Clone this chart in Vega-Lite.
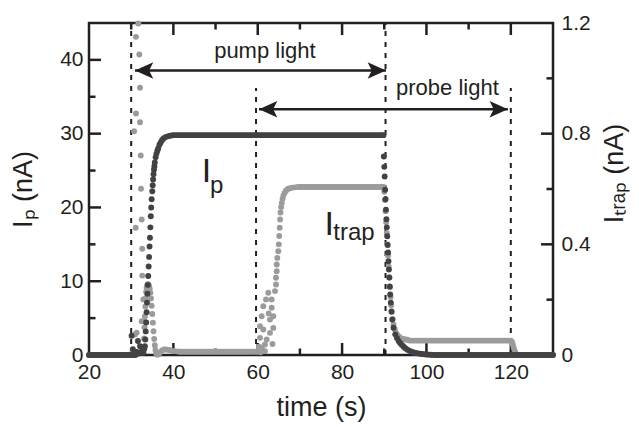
{
"$schema":"https://vega.github.io/schema/vega-lite/v6.json",
"width":464,"height":332,
"autosize":{"type":"none"},
"padding":{"left":89,"top":23,"right":86,"bottom":72},
"background":"white",
"config":{
 "view":{"stroke":"#231f20","strokeWidth":2.5},
 "axis":{"domain":false,"grid":false,"labelFont":"Liberation Sans","titleFont":"Liberation Sans","labelFontSize":21,"titleFontSize":27,"labelColor":"#231f20","titleColor":"#231f20","tickColor":"#231f20","tickWidth":2.5,"gridColor":"#231f20","gridWidth":2.5,"gridOpacity":1,"titleFontWeight":"normal","labelFlush":false,"labelOverlap":false},
 "text":{"font":"Liberation Sans","color":"#231f20"}
},
"datasets":{
 "dash":[{"t":30,"y1":0,"y2":45},{"t":59.6,"y1":0,"y2":36.2},{"t":90.3,"y1":0,"y2":45},{"t":120,"y1":0,"y2":36.2}],
 "arrows":[{"x1":30.9,"x2":90.4,"y":38.55},{"x1":60.3,"x2":119.3,"y":33.3}],
 "xmaj":[{"t":40},{"t":60},{"t":80},{"t":100},{"t":120}],
 "xmin":[{"t":30},{"t":50},{"t":70},{"t":90},{"t":110}],
 "ylmaj":[{"v":10},{"v":20},{"v":30},{"v":40}],
 "ylmin":[{"v":5},{"v":15},{"v":25},{"v":35}],
 "yrmaj":[{"v":0.4},{"v":0.8}],
 "yrmin":[{"v":0.2},{"v":0.6},{"v":1.0}],
 "notes":[{"t":61.7,"v":40.27,"text":"pump light"},{"t":104.96,"v":35.3,"text":"probe light"}],
 "bigI":[{"t":46.7,"v":23.45,"text":"I"},{"t":75.85,"v":16.26,"text":"I"}],
 "subs":[{"t":48.7,"v":21.96,"text":"p"},{"t":77.9,"v":15.59,"text":"trap"}],
 "ip":[
{"t":20,"v":0},{"t":20.5,"v":0},{"t":21,"v":0},{"t":21.5,"v":0},{"t":22,"v":0},{"t":22.5,"v":0},{"t":23,"v":0},{"t":23.5,"v":0},{"t":24,"v":0},{"t":24.5,"v":0},{"t":25,"v":0},{"t":25.5,"v":0},{"t":26,"v":0},{"t":26.5,"v":0},{"t":27,"v":0},{"t":27.5,"v":0},{"t":28,"v":0},{"t":28.5,"v":0},{"t":29,"v":0},{"t":29.5,"v":0},
{"t":30,"v":0},{"t":30.1,"v":2.6},{"t":30.4,"v":0.8},{"t":30.5,"v":0},{"t":30.8,"v":0.3},{"t":31,"v":0},{"t":31.3,"v":0.4},{"t":31.6,"v":1.9},{"t":31.8,"v":0.2},{"t":32.1,"v":1.2},{"t":32.3,"v":0.3},{"t":32.6,"v":0.6},{"t":32.9,"v":0.3},{"t":33.1,"v":0.8},
{"t":33.25,"v":1.2},{"t":33.35,"v":2.1},{"t":33.45,"v":3.2},{"t":33.55,"v":4.4},{"t":33.65,"v":5.8},{"t":33.75,"v":7.1},{"t":33.85,"v":8.3},{"t":33.95,"v":9.5},{"t":34.05,"v":10.7},{"t":34.15,"v":12.0},{"t":34.25,"v":13.3},{"t":34.35,"v":14.7},{"t":34.45,"v":15.9},{"t":34.55,"v":17.3},{"t":34.65,"v":18.8},{"t":34.75,"v":20.0},{"t":34.85,"v":21.1},{"t":35.0,"v":22.2},{"t":35.1,"v":23.0},{"t":35.2,"v":23.8},{"t":35.3,"v":24.5},{"t":35.4,"v":25.1},{"t":35.5,"v":25.6},{"t":35.6,"v":26.1},{"t":35.8,"v":26.8},{"t":36.0,"v":27.3},{"t":36.2,"v":27.7},{"t":36.4,"v":28.0},{"t":36.7,"v":28.5},{"t":37.0,"v":28.8},{"t":37.3,"v":29.1},{"t":37.6,"v":29.3},{"t":38.0,"v":29.5},{"t":38.5,"v":29.6},{"t":39.0,"v":29.7},{"t":39.5,"v":29.75},
{"t":40,"v":29.8},{"t":40.5,"v":29.8},{"t":41,"v":29.8},{"t":41.5,"v":29.8},{"t":42,"v":29.8},{"t":42.5,"v":29.8},{"t":43,"v":29.8},{"t":43.5,"v":29.8},{"t":44,"v":29.8},{"t":44.5,"v":29.8},{"t":45,"v":29.8},{"t":45.5,"v":29.8},{"t":46,"v":29.8},{"t":46.5,"v":29.8},{"t":47,"v":29.8},{"t":47.5,"v":29.8},{"t":48,"v":29.8},{"t":48.5,"v":29.8},{"t":49,"v":29.8},{"t":49.5,"v":29.8},
{"t":50,"v":29.8},{"t":50.5,"v":29.8},{"t":51,"v":29.8},{"t":51.5,"v":29.8},{"t":52,"v":29.8},{"t":52.5,"v":29.8},{"t":53,"v":29.8},{"t":53.5,"v":29.8},{"t":54,"v":29.8},{"t":54.5,"v":29.8},{"t":55,"v":29.8},{"t":55.5,"v":29.8},{"t":56,"v":29.8},{"t":56.5,"v":29.8},{"t":57,"v":29.8},{"t":57.5,"v":29.8},{"t":58,"v":29.8},{"t":58.5,"v":29.8},{"t":59,"v":29.8},{"t":59.5,"v":29.8},
{"t":60,"v":29.8},{"t":60.5,"v":29.8},{"t":61,"v":29.8},{"t":61.5,"v":29.8},{"t":62,"v":29.8},{"t":62.5,"v":29.8},{"t":63,"v":29.8},{"t":63.5,"v":29.8},{"t":64,"v":29.8},{"t":64.5,"v":29.8},{"t":65,"v":29.8},{"t":65.5,"v":29.8},{"t":66,"v":29.8},{"t":66.5,"v":29.8},{"t":67,"v":29.8},{"t":67.5,"v":29.8},{"t":68,"v":29.8},{"t":68.5,"v":29.8},{"t":69,"v":29.8},{"t":69.5,"v":29.8},
{"t":70,"v":29.8},{"t":70.5,"v":29.8},{"t":71,"v":29.8},{"t":71.5,"v":29.8},{"t":72,"v":29.8},{"t":72.5,"v":29.8},{"t":73,"v":29.8},{"t":73.5,"v":29.8},{"t":74,"v":29.8},{"t":74.5,"v":29.8},{"t":75,"v":29.8},{"t":75.5,"v":29.8},{"t":76,"v":29.8},{"t":76.5,"v":29.8},{"t":77,"v":29.8},{"t":77.5,"v":29.8},{"t":78,"v":29.8},{"t":78.5,"v":29.8},{"t":79,"v":29.8},{"t":79.5,"v":29.8},
{"t":80,"v":29.8},{"t":80.5,"v":29.8},{"t":81,"v":29.8},{"t":81.5,"v":29.8},{"t":82,"v":29.8},{"t":82.5,"v":29.8},{"t":83,"v":29.8},{"t":83.5,"v":29.8},{"t":84,"v":29.8},{"t":84.5,"v":29.8},{"t":85,"v":29.8},{"t":85.5,"v":29.8},{"t":86,"v":29.8},{"t":86.5,"v":29.8},{"t":87,"v":29.8},{"t":87.5,"v":29.8},{"t":88,"v":29.8},{"t":88.5,"v":29.8},{"t":89,"v":29.8},{"t":89.5,"v":29.8},{"t":89.8,"v":29.8},
{"t":89.9,"v":26.9},{"t":90.0,"v":25.5},{"t":90.1,"v":24.2},{"t":90.2,"v":22.4},{"t":90.3,"v":21.1},{"t":90.4,"v":19.7},{"t":90.5,"v":18.4},{"t":90.6,"v":17.3},{"t":90.7,"v":16.1},{"t":90.8,"v":14.9},{"t":90.9,"v":13.9},{"t":91.0,"v":12.7},{"t":91.1,"v":11.6},{"t":91.2,"v":10.5},{"t":91.3,"v":9.3},{"t":91.4,"v":8.2},{"t":91.55,"v":7.1},{"t":91.7,"v":5.9},{"t":91.9,"v":4.8},{"t":92.2,"v":3.7},{"t":92.6,"v":2.8},{"t":93.0,"v":2.3},{"t":93.4,"v":1.9},{"t":93.8,"v":1.6},{"t":94.2,"v":1.35},{"t":94.6,"v":1.12},{"t":95.0,"v":0.92},{"t":95.5,"v":0.72},{"t":96.0,"v":0.56},{"t":96.5,"v":0.44},{"t":97.0,"v":0.35},{"t":97.5,"v":0.28},{"t":98.0,"v":0.22},{"t":98.5,"v":0.17},{"t":99.0,"v":0.13},{"t":99.5,"v":0.1},{"t":100,"v":0.07},{"t":100.5,"v":0.05},{"t":101,"v":0.03},{"t":101.5,"v":0.015},
{"t":102,"v":0},{"t":102.5,"v":0},{"t":103,"v":0},{"t":103.5,"v":0},{"t":104,"v":0},{"t":104.5,"v":0},{"t":105,"v":0},{"t":105.5,"v":0},{"t":106,"v":0},{"t":106.5,"v":0},{"t":107,"v":0},{"t":107.5,"v":0},{"t":108,"v":0},{"t":108.5,"v":0},{"t":109,"v":0},{"t":109.5,"v":0},{"t":110,"v":0},{"t":110.5,"v":0},{"t":111,"v":0},{"t":111.5,"v":0},
{"t":112,"v":0},{"t":112.5,"v":0},{"t":113,"v":0},{"t":113.5,"v":0},{"t":114,"v":0},{"t":114.5,"v":0},{"t":115,"v":0},{"t":115.5,"v":0},{"t":116,"v":0},{"t":116.5,"v":0},{"t":117,"v":0},{"t":117.5,"v":0},{"t":118,"v":0},{"t":118.5,"v":0},{"t":119,"v":0},{"t":119.5,"v":0},{"t":120,"v":0},{"t":120.5,"v":0},{"t":121,"v":0},{"t":121.5,"v":0},
{"t":122,"v":0},{"t":122.5,"v":0},{"t":123,"v":0},{"t":123.5,"v":0},{"t":124,"v":0},{"t":124.5,"v":0},{"t":125,"v":0},{"t":125.5,"v":0},{"t":126,"v":0},{"t":126.5,"v":0},{"t":127,"v":0},{"t":127.5,"v":0},{"t":128,"v":0},{"t":128.5,"v":0},{"t":129,"v":0},{"t":129.5,"v":0},{"t":130,"v":0}
 ],
 "itrap":[
{"t":20,"v":0},{"t":21,"v":0},{"t":22,"v":0},{"t":23,"v":0},{"t":24,"v":0},{"t":25,"v":0},{"t":26,"v":0},{"t":27,"v":0},{"t":28,"v":0},{"t":29,"v":0},{"t":29.5,"v":0},{"t":30,"v":0},
{"t":30.3,"v":0.01},{"t":30.7,"v":0.809},{"t":30.9,"v":0.074},{"t":31.07,"v":0.46},{"t":31.14,"v":1.15},{"t":31.14,"v":0.873},{"t":31.3,"v":0.081},{"t":31.5,"v":0.01},{"t":31.69,"v":1.198},{"t":31.93,"v":1.086},{"t":32.09,"v":0.966},{"t":32.09,"v":0.841},{"t":32.26,"v":0.721},{"t":32.33,"v":0.601},{"t":32.49,"v":0.49},{"t":32.49,"v":0.122},{"t":32.5,"v":0.01},{"t":32.63,"v":0.384},{"t":32.63,"v":0.287},{"t":32.87,"v":0.201},{"t":33.11,"v":0.122},
{"t":32.95,"v":0.03},{"t":33.05,"v":0.06},{"t":33.15,"v":0.1},{"t":33.25,"v":0.14},{"t":33.35,"v":0.175},{"t":33.45,"v":0.205},{"t":33.55,"v":0.228},{"t":33.65,"v":0.243},{"t":33.8,"v":0.252},{"t":33.95,"v":0.256},{"t":34.1,"v":0.255},{"t":34.25,"v":0.249},{"t":34.4,"v":0.24},{"t":34.55,"v":0.225},{"t":34.7,"v":0.204},{"t":34.85,"v":0.178},{"t":35.0,"v":0.148},{"t":35.15,"v":0.117},{"t":35.3,"v":0.086},{"t":35.45,"v":0.058},{"t":35.6,"v":0.035},{"t":35.75,"v":0.018},{"t":35.9,"v":0.007},{"t":36.1,"v":0.002},{"t":36.4,"v":0.002},{"t":36.8,"v":0.008},{"t":37.3,"v":0.016},{"t":37.8,"v":0.02},{"t":38.3,"v":0.02},{"t":38.9,"v":0.018},{"t":39.5,"v":0.016},{"t":40.2,"v":0.014},{"t":41,"v":0.013},
{"t":41.5,"v":0.012},{"t":42,"v":0.012},{"t":42.5,"v":0.012},{"t":43,"v":0.012},{"t":43.5,"v":0.012},{"t":44,"v":0.012},{"t":44.5,"v":0.012},{"t":45,"v":0.012},{"t":45.5,"v":0.012},{"t":46,"v":0.012},{"t":46.5,"v":0.012},{"t":47,"v":0.012},{"t":47.5,"v":0.012},{"t":48,"v":0.012},{"t":48.5,"v":0.012},{"t":49,"v":0.012},{"t":49.5,"v":0.012},{"t":50,"v":0.012},{"t":50.5,"v":0.012},{"t":51,"v":0.012},
{"t":51.5,"v":0.012},{"t":52,"v":0.012},{"t":52.5,"v":0.012},{"t":53,"v":0.012},{"t":53.5,"v":0.012},{"t":54,"v":0.012},{"t":54.5,"v":0.012},{"t":55,"v":0.012},{"t":55.5,"v":0.012},{"t":56,"v":0.012},{"t":56.5,"v":0.012},{"t":57,"v":0.012},{"t":57.5,"v":0.012},{"t":58,"v":0.012},{"t":58.5,"v":0.012},{"t":59,"v":0.012},{"t":59.5,"v":0.012},{"t":60,"v":0.012},
{"t":60.3,"v":0.03},{"t":60.54,"v":0.104},{"t":60.54,"v":0.062},{"t":60.7,"v":0.01},{"t":60.94,"v":0.14},{"t":60.94,"v":0.026},{"t":61.32,"v":0.176},{"t":61.32,"v":0.092},{"t":61.72,"v":0.038},{"t":61.72,"v":0.014},{"t":61.96,"v":0.201},{"t":62.12,"v":0.056},{"t":62.5,"v":0.225},{"t":62.6,"v":0.15},{"t":62.9,"v":0.128},{"t":62.9,"v":0.08},{"t":63.3,"v":0.201},{"t":63.3,"v":0.171},{"t":63.5,"v":0.04},{"t":63.69,"v":0.14},{"t":63.69,"v":0.098},{"t":64.09,"v":0.231},{"t":64.33,"v":0.255},{"t":64.33,"v":0.279},{"t":64.5,"v":0.303},{"t":64.5,"v":0.327},{"t":64.64,"v":0.351},{"t":64.88,"v":0.375},
{"t":65.0,"v":0.40},{"t":65.1,"v":0.43},{"t":65.2,"v":0.46},{"t":65.3,"v":0.49},{"t":65.4,"v":0.515},{"t":65.55,"v":0.535},{"t":65.7,"v":0.55},{"t":65.9,"v":0.565},{"t":66.1,"v":0.577},{"t":66.4,"v":0.587},{"t":66.7,"v":0.594},{"t":67.1,"v":0.6},{"t":67.6,"v":0.603},{"t":68.2,"v":0.605},{"t":68.8,"v":0.606},
{"t":69.5,"v":0.607},{"t":70,"v":0.607},{"t":70.5,"v":0.607},{"t":71,"v":0.607},{"t":71.5,"v":0.607},{"t":72,"v":0.607},{"t":72.5,"v":0.607},{"t":73,"v":0.607},{"t":73.5,"v":0.607},{"t":74,"v":0.607},{"t":74.5,"v":0.607},{"t":75,"v":0.607},{"t":75.5,"v":0.607},{"t":76,"v":0.607},{"t":76.5,"v":0.607},{"t":77,"v":0.607},{"t":77.5,"v":0.607},{"t":78,"v":0.607},{"t":78.5,"v":0.607},{"t":79,"v":0.607},
{"t":79.5,"v":0.607},{"t":80,"v":0.607},{"t":80.5,"v":0.607},{"t":81,"v":0.607},{"t":81.5,"v":0.607},{"t":82,"v":0.607},{"t":82.5,"v":0.607},{"t":83,"v":0.607},{"t":83.5,"v":0.607},{"t":84,"v":0.607},{"t":84.5,"v":0.607},{"t":85,"v":0.607},{"t":85.5,"v":0.607},{"t":86,"v":0.607},{"t":86.5,"v":0.607},{"t":87,"v":0.607},{"t":87.5,"v":0.607},{"t":88,"v":0.607},{"t":88.5,"v":0.607},{"t":89,"v":0.607},{"t":89.5,"v":0.607},{"t":89.8,"v":0.607},
{"t":90.0,"v":0.59},{"t":90.15,"v":0.56},{"t":90.3,"v":0.52},{"t":90.45,"v":0.48},{"t":90.6,"v":0.44},{"t":90.75,"v":0.4},{"t":90.9,"v":0.36},{"t":91.05,"v":0.32},{"t":91.2,"v":0.28},{"t":91.35,"v":0.245},{"t":91.5,"v":0.21},{"t":91.65,"v":0.18},{"t":91.8,"v":0.155},{"t":92.0,"v":0.13},{"t":92.2,"v":0.11},{"t":92.5,"v":0.092},{"t":92.8,"v":0.08},{"t":93.1,"v":0.072},{"t":93.5,"v":0.066},{"t":94.0,"v":0.061},{"t":94.5,"v":0.058},{"t":95.0,"v":0.056},{"t":95.5,"v":0.055},
{"t":96,"v":0.052},{"t":96.5,"v":0.052},{"t":97,"v":0.052},{"t":97.5,"v":0.052},{"t":98,"v":0.052},{"t":98.5,"v":0.052},{"t":99,"v":0.052},{"t":99.5,"v":0.052},{"t":100,"v":0.052},{"t":100.5,"v":0.052},{"t":101,"v":0.052},{"t":101.5,"v":0.052},{"t":102,"v":0.052},{"t":102.5,"v":0.052},{"t":103,"v":0.052},{"t":103.5,"v":0.052},{"t":104,"v":0.052},{"t":104.5,"v":0.052},{"t":105,"v":0.052},{"t":105.5,"v":0.052},
{"t":106,"v":0.052},{"t":106.5,"v":0.052},{"t":107,"v":0.052},{"t":107.5,"v":0.052},{"t":108,"v":0.052},{"t":108.5,"v":0.052},{"t":109,"v":0.052},{"t":109.5,"v":0.052},{"t":110,"v":0.052},{"t":110.5,"v":0.052},{"t":111,"v":0.052},{"t":111.5,"v":0.052},{"t":112,"v":0.052},{"t":112.5,"v":0.052},{"t":113,"v":0.052},{"t":113.5,"v":0.052},{"t":114,"v":0.052},{"t":114.5,"v":0.052},{"t":115,"v":0.052},{"t":115.5,"v":0.052},
{"t":116,"v":0.052},{"t":116.5,"v":0.052},{"t":117,"v":0.052},{"t":117.5,"v":0.052},{"t":118,"v":0.052},{"t":118.5,"v":0.052},{"t":119,"v":0.052},{"t":119.5,"v":0.052},{"t":120,"v":0.052},
{"t":120.3,"v":0.046},{"t":120.5,"v":0.036},{"t":120.7,"v":0.025},{"t":120.9,"v":0.015},{"t":121.1,"v":0.008},{"t":121.3,"v":0.003},{"t":121.6,"v":0},
{"t":122,"v":0},{"t":123,"v":0},{"t":124,"v":0},{"t":125,"v":0},{"t":126,"v":0},{"t":127,"v":0},{"t":128,"v":0},{"t":129,"v":0},{"t":130,"v":0}
 ]
},
"resolve":{"scale":{"y":"independent"},"axis":{"x":"independent","y":"independent"}},
"layer":[
 {"data":{"name":"xmaj"},
  "mark":{"type":"rule","strokeWidth":2.5,"color":"#231f20"},
  "encoding":{
   "x":{"field":"t","type":"quantitative","scale":{"domain":[20,130],"nice":false,"zero":false},"axis":null},
   "y":{"datum":0,"type":"quantitative","scale":{"domain":[0,45],"nice":false},"axis":null},
   "y2":{"datum":1.63}}},
 {"data":{"name":"xmaj"},
  "mark":{"type":"rule","strokeWidth":2.5,"color":"#231f20"},
  "encoding":{
   "x":{"field":"t","type":"quantitative","scale":{"domain":[20,130],"nice":false,"zero":false},"axis":null},
   "y":{"datum":45,"type":"quantitative","scale":{"domain":[0,45],"nice":false},"axis":null},
   "y2":{"datum":43.37}}},
 {"data":{"name":"xmin"},
  "mark":{"type":"rule","strokeWidth":2.5,"color":"#231f20"},
  "encoding":{
   "x":{"field":"t","type":"quantitative","scale":{"domain":[20,130],"nice":false,"zero":false},"axis":null},
   "y":{"datum":0,"type":"quantitative","scale":{"domain":[0,45],"nice":false},"axis":null},
   "y2":{"datum":0.88}}},
 {"data":{"name":"xmin"},
  "mark":{"type":"rule","strokeWidth":2.5,"color":"#231f20"},
  "encoding":{
   "x":{"field":"t","type":"quantitative","scale":{"domain":[20,130],"nice":false,"zero":false},"axis":null},
   "y":{"datum":45,"type":"quantitative","scale":{"domain":[0,45],"nice":false},"axis":null},
   "y2":{"datum":44.12}}},
 {"data":{"name":"ylmaj"},
  "mark":{"type":"rule","strokeWidth":2.5,"color":"#231f20"},
  "encoding":{
   "x":{"datum":20,"type":"quantitative","scale":{"domain":[20,130],"nice":false,"zero":false},"axis":null},
   "x2":{"datum":22.84},
   "y":{"field":"v","type":"quantitative","scale":{"domain":[0,45],"nice":false},"axis":null}}},
 {"data":{"name":"ylmin"},
  "mark":{"type":"rule","strokeWidth":2.5,"color":"#231f20"},
  "encoding":{
   "x":{"datum":20,"type":"quantitative","scale":{"domain":[20,130],"nice":false,"zero":false},"axis":null},
   "x2":{"datum":21.54},
   "y":{"field":"v","type":"quantitative","scale":{"domain":[0,45],"nice":false},"axis":null}}},
 {"data":{"name":"yrmaj"},
  "mark":{"type":"rule","strokeWidth":2.5,"color":"#231f20"},
  "encoding":{
   "x":{"datum":130,"type":"quantitative","scale":{"domain":[20,130],"nice":false,"zero":false},"axis":null},
   "x2":{"datum":127.16},
   "y":{"field":"v","type":"quantitative","scale":{"domain":[0,1.2],"nice":false},"axis":null}}},
 {"data":{"name":"yrmin"},
  "mark":{"type":"rule","strokeWidth":2.5,"color":"#231f20"},
  "encoding":{
   "x":{"datum":130,"type":"quantitative","scale":{"domain":[20,130],"nice":false,"zero":false},"axis":null},
   "x2":{"datum":128.46},
   "y":{"field":"v","type":"quantitative","scale":{"domain":[0,1.2],"nice":false},"axis":null}}},
 {"data":{"name":"dash"},
  "mark":{"type":"rule","strokeDash":[5,6],"strokeWidth":2,"color":"#231f20"},
  "encoding":{
   "x":{"field":"t","type":"quantitative","scale":{"domain":[20,130],"nice":false,"zero":false},"axis":null},
   "y":{"field":"y1","type":"quantitative","scale":{"domain":[0,45],"nice":false},"axis":null},
   "y2":{"field":"y2"}}},
 {"data":{"name":"arrows"},
  "mark":{"type":"rule","strokeWidth":2.5,"color":"#231f20"},
  "encoding":{
   "x":{"field":"x1","type":"quantitative","scale":{"domain":[20,130],"nice":false,"zero":false},"axis":null},
   "x2":{"field":"x2"},
   "y":{"field":"y","type":"quantitative","scale":{"domain":[0,45],"nice":false},"axis":null}}},
 {"data":{"name":"arrows"},
  "mark":{"type":"point","shape":"M0,0L2,-0.9L1.55,0L2,0.9Z","filled":true,"size":335,"opacity":1,"color":"#231f20","strokeWidth":0},
  "encoding":{
   "x":{"field":"x1","type":"quantitative","scale":{"domain":[20,130],"nice":false,"zero":false},"axis":null},
   "y":{"field":"y","type":"quantitative","scale":{"domain":[0,45],"nice":false},"axis":null}}},
 {"data":{"name":"arrows"},
  "mark":{"type":"point","shape":"M0,0L-2,-0.9L-1.55,0L-2,0.9Z","filled":true,"size":335,"opacity":1,"color":"#231f20","strokeWidth":0},
  "encoding":{
   "x":{"field":"x2","type":"quantitative","scale":{"domain":[20,130],"nice":false,"zero":false},"axis":null},
   "y":{"field":"y","type":"quantitative","scale":{"domain":[0,45],"nice":false},"axis":null}}},
 {"data":{"name":"notes"},
  "mark":{"type":"text","align":"center","baseline":"alphabetic","fontSize":22,"font":"Liberation Sans","color":"#231f20"},
  "encoding":{
   "x":{"field":"t","type":"quantitative","scale":{"domain":[20,130],"nice":false,"zero":false},"axis":null},
   "y":{"field":"v","type":"quantitative","scale":{"domain":[0,45],"nice":false},"axis":null},
   "text":{"field":"text"}}},
 {"data":{"name":"bigI"},
  "mark":{"type":"text","align":"left","baseline":"alphabetic","fontSize":34,"font":"Liberation Sans","color":"#231f20"},
  "encoding":{
   "x":{"field":"t","type":"quantitative","scale":{"domain":[20,130],"nice":false,"zero":false},"axis":null},
   "y":{"field":"v","type":"quantitative","scale":{"domain":[0,45],"nice":false},"axis":null},
   "text":{"field":"text"}}},
 {"data":{"name":"subs"},
  "mark":{"type":"text","align":"left","baseline":"alphabetic","fontSize":24,"font":"Liberation Sans","color":"#231f20"},
  "encoding":{
   "x":{"field":"t","type":"quantitative","scale":{"domain":[20,130],"nice":false,"zero":false},"axis":null},
   "y":{"field":"v","type":"quantitative","scale":{"domain":[0,45],"nice":false},"axis":null},
   "text":{"field":"text"}}},
 {"data":{"name":"itrap"},
  "mark":{"type":"point","shape":"circle","filled":true,"size":35,"opacity":1,"color":"#9b9b9b","strokeWidth":0},
  "encoding":{
   "x":{"field":"t","type":"quantitative","scale":{"domain":[20,130],"nice":false,"zero":false},
        "axis":{"orient":"bottom","values":[20,40,60,80,100,120],"ticks":false,"labelPadding":6,"title":"time (s)","titlePadding":12}},
   "y":{"field":"v","type":"quantitative","scale":{"domain":[0,1.2],"nice":false},
        "axis":{"orient":"right","values":[0,0.4,0.8,1.2],"format":"~g","ticks":false,"labelPadding":8,"title":"Iₜᵣₐₚ (nA)","titleAngle":-90,"titleBaseline":"top","titlePadding":11,"titleY":150}}}},
 {"data":{"name":"ip"},
  "mark":{"type":"point","shape":"circle","filled":true,"size":35,"opacity":1,"color":"#424242","strokeWidth":0},
  "encoding":{
   "x":{"field":"t","type":"quantitative","scale":{"domain":[20,130],"nice":false,"zero":false},"axis":null},
   "y":{"field":"v","type":"quantitative","scale":{"domain":[0,45],"nice":false},
        "axis":{"orient":"left","values":[0,10,20,30,40],"ticks":false,"labelPadding":6,"title":"Iₚ (nA)","titlePadding":22}}}}
]
}
